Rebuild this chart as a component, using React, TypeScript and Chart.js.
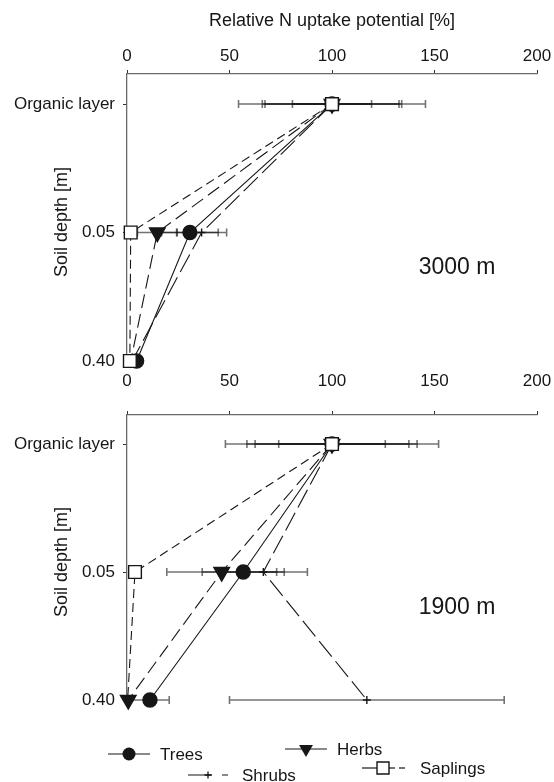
import React, { useEffect, useRef } from 'react';
import { Chart, registerables } from 'chart.js';

Chart.register(...registerables);

// ---------- data ----------
const depthLabels = ['Organic layer', '0.05', '0.40'];
const xTicks = [0, 50, 100, 150, 200];
const axisTitle = 'Relative N uptake potential [%]';
const yTitle = 'Soil depth [m]';
const panelNames = ['3000 m', '1900 m'];
const seriesNames = ['Trees', 'Herbs', 'Shrubs', 'Saplings'];

// 3000 m
const trees3000 = [100, 30.7, 4.7];
const trees3000Err = [34, 13.8, 0];
const herbs3000 = [100, 14.8, 1.8];
const herbs3000Err = [32.7, 9.7, 0];
const shrubs3000 = [100, 36.4, 2.5];
const shrubs3000Err = [45.6, 12.2, 0];
const saplings3000 = [100, 1.8, 1.4];
const saplings3000Err = [19.3, 2, 0];

// 1900 m
const trees1900 = [100, 56.7, 11.2];
const trees1900Err = [41.5, 20, 9.4];
const herbs1900 = [100, 46.2, 0.6];
const herbs1900Err = [37.5, 26.8, 0];
const shrubs1900 = [100, 66.5, 117];
const shrubs1900Err = [52, 21.5, 67];
const saplings1900 = [100, 3.9, 0.3];
const saplings1900Err = [26, 0, 0];

const FONT = "'Liberation Sans', Arial, Helvetica, sans-serif";
const INK = '#161616';

type SeriesStyle = {
  pointStyle: any;
  radius: number;
  rotation: number;
  fill: string;
  dash: number[];
  order: number;
};

const styles: Record<string, SeriesStyle> = {
  Trees: { pointStyle: 'circle', radius: 7, rotation: 0, fill: INK, dash: [], order: 3 },
  Herbs: { pointStyle: 'triangle', radius: 9, rotation: 180, fill: INK, dash: [14, 6], order: 2 },
  Shrubs: { pointStyle: 'cross', radius: 4, rotation: 0, fill: INK, dash: [20, 6], order: 1 },
  Saplings: { pointStyle: 'rect', radius: 9, rotation: 0, fill: '#ffffff', dash: [9, 5], order: 0 },
};

function makeDataset(name: string, values: number[], errs: number[], hidden: boolean[] = []) {
  const s = styles[name];
  return {
    label: name,
    data: values.map((v, i) => ({ x: v, y: i })),
    xErr: errs,
    showLine: true,
    borderColor: INK,
    borderWidth: 1.1,
    borderDash: s.dash,
    pointStyle: s.pointStyle,
    pointRadius: values.map((_, i) => (hidden[i] ? 0 : s.radius)),
    pointRotation: s.rotation,
    pointBackgroundColor: s.fill,
    pointBorderColor: INK,
    pointBorderWidth: 1.4,
    order: s.order,
    clip: false,
    tension: 0,
  };
}

const errorBarPlugin = {
  id: 'errbars',
  beforeDatasetsDraw(chart: any) {
    const ctx = chart.ctx;
    const xs = chart.scales.x;
    ctx.save();
    ctx.strokeStyle = 'rgba(0,0,0,0.55)';
    ctx.lineWidth = 1.6;
    ctx.setLineDash([]);
    chart.data.datasets.forEach((ds: any, di: number) => {
      const meta = chart.getDatasetMeta(di);
      const errs = ds.xErr || [];
      meta.data.forEach((pt: any, i: number) => {
        const e = errs[i];
        if (!e) return;
        const v = ds.data[i].x;
        const x1 = xs.getPixelForValue(v - e);
        const x2 = xs.getPixelForValue(v + e);
        const y = pt.y;
        ctx.beginPath();
        ctx.moveTo(x1, y);
        ctx.lineTo(x2, y);
        ctx.moveTo(x1, y - 4);
        ctx.lineTo(x1, y + 4);
        ctx.moveTo(x2, y - 4);
        ctx.lineTo(x2, y + 4);
        ctx.stroke();
      });
    });
    ctx.restore();
  },
};

function drawMarker(ctx: CanvasRenderingContext2D, kind: string, x: number, y: number) {
  ctx.save();
  ctx.setLineDash([]);
  ctx.strokeStyle = INK;
  ctx.fillStyle = INK;
  ctx.lineWidth = 1.4;
  ctx.beginPath();
  if (kind === 'Trees') {
    ctx.arc(x, y, 6.5, 0, Math.PI * 2);
    ctx.fill();
  } else if (kind === 'Herbs') {
    const r = 8;
    ctx.moveTo(x - r * 0.866, y - r * 0.5);
    ctx.lineTo(x + r * 0.866, y - r * 0.5);
    ctx.lineTo(x, y + r);
    ctx.closePath();
    ctx.fill();
  } else if (kind === 'Shrubs') {
    ctx.lineWidth = 1.3;
    ctx.moveTo(x - 3.5, y);
    ctx.lineTo(x + 3.5, y);
    ctx.moveTo(x, y - 3.5);
    ctx.lineTo(x, y + 3.5);
    ctx.stroke();
  } else {
    ctx.fillStyle = '#ffffff';
    ctx.rect(x - 6, y - 6, 12, 12);
    ctx.fill();
    ctx.stroke();
  }
  ctx.restore();
}

function legendLine(ctx: CanvasRenderingContext2D, x1: number, x2: number, y: number, dash: number[]) {
  ctx.save();
  ctx.strokeStyle = INK;
  ctx.lineWidth = 1.2;
  ctx.setLineDash(dash);
  ctx.beginPath();
  ctx.moveTo(x1, y);
  ctx.lineTo(x2, y);
  ctx.stroke();
  ctx.restore();
}

function makeTextPlugin(panelIdx: number, yTitleCenter: number, panelLabelY: number, withLegend: boolean) {
  return {
    id: 'texts' + panelIdx,
    afterDraw(chart: any) {
      const ctx = chart.ctx as CanvasRenderingContext2D;
      ctx.save();
      ctx.fillStyle = INK;
      // y title
      ctx.save();
      ctx.translate(62, yTitleCenter);
      ctx.rotate(-Math.PI / 2);
      ctx.font = `18px ${FONT}`;
      ctx.textAlign = 'center';
      ctx.textBaseline = 'middle';
      ctx.fillText(yTitle, 0, 0);
      ctx.restore();
      // panel label
      ctx.font = `23px ${FONT}`;
      ctx.textAlign = 'center';
      ctx.textBaseline = 'middle';
      ctx.fillText(panelNames[panelIdx], 457, panelLabelY);

      if (withLegend) {
        ctx.font = `17px ${FONT}`;
        ctx.textAlign = 'left';
        ctx.textBaseline = 'middle';
        // Trees
        legendLine(ctx, 108, 150, 754, []);
        drawMarker(ctx, 'Trees', 129, 754);
        ctx.fillText(seriesNames[0], 160, 755);
        // Herbs
        legendLine(ctx, 285, 327, 749, []);
        drawMarker(ctx, 'Herbs', 306, 749);
        ctx.fillText(seriesNames[1], 337, 750);
        // Shrubs
        legendLine(ctx, 188, 228, 775, [24, 10]);
        drawMarker(ctx, 'Shrubs', 208, 775);
        ctx.fillText(seriesNames[2], 242, 776);
        // Saplings
        legendLine(ctx, 362, 377, 768, []);
        legendLine(ctx, 389, 395, 768, []);
        legendLine(ctx, 399, 405, 768, []);
        drawMarker(ctx, 'Saplings', 383, 768);
        ctx.fillText(seriesNames[3], 420, 769);
      }
      ctx.restore();
    },
  };
}

type PanelCfg = {
  idx: number;
  datasets: any[];
  padTop: number;
  padBottom: number;
  xAxisHeight: number;
  tickPad: number;
  showTitle: boolean;
  yMin: number;
  yTitleCenter: number;
  panelLabelY: number;
  legend: boolean;
};

function buildChart(canvas: HTMLCanvasElement, cfg: PanelCfg) {
  return new Chart(canvas, {
    type: 'scatter',
    data: { datasets: cfg.datasets },
    options: {
      responsive: false,
      animation: false,
      events: [],
      layout: { padding: { top: cfg.padTop, bottom: cfg.padBottom, left: 0, right: 17 } },
      plugins: {
        legend: { display: false },
        tooltip: { enabled: false },
        title: { display: false },
      },
      scales: {
        x: {
          type: 'linear',
          position: 'top',
          min: 0,
          max: 200,
          afterBuildTicks: (s: any) => {
            s.ticks = xTicks.map((v) => ({ value: v }));
          },
          afterFit: (s: any) => {
            s.height = cfg.xAxisHeight;
            s.paddingLeft = 0;
            s.paddingRight = 0;
          },
          ticks: {
            font: { size: 17, family: FONT },
            color: INK,
            padding: cfg.tickPad,
            maxRotation: 0,
            autoSkip: false,
          },
          grid: { drawOnChartArea: false, drawTicks: true, tickLength: 4, color: '#333', lineWidth: 1 },
          border: { display: true, color: '#6a6a6a', width: 1.3 },
          title: {
            display: cfg.showTitle,
            text: axisTitle,
            font: { size: 18, family: FONT },
            color: INK,
            padding: { top: 10, bottom: 0 },
          },
        },
        y: {
          type: 'linear',
          position: 'left',
          reverse: true,
          min: cfg.yMin,
          max: 2,
          afterBuildTicks: (s: any) => {
            s.ticks = [0, 1, 2].map((v) => ({ value: v }));
          },
          afterFit: (s: any) => {
            s.width = 127;
            s.paddingTop = 0;
            s.paddingBottom = 0;
          },
          ticks: {
            font: { size: 17, family: FONT },
            color: INK,
            padding: 8,
            autoSkip: false,
            callback: (v: any) => depthLabels[v as number] ?? '',
          },
          grid: { drawOnChartArea: false, drawTicks: true, tickLength: 4, color: '#333', lineWidth: 1 },
          border: { display: true, color: '#6a6a6a', width: 1.3 },
        },
      },
    } as any,
    plugins: [errorBarPlugin, makeTextPlugin(cfg.idx, cfg.yTitleCenter, cfg.panelLabelY, cfg.legend)],
  });
}

export default function App() {
  const topRef = useRef<HTMLCanvasElement | null>(null);
  const botRef = useRef<HTMLCanvasElement | null>(null);

  useEffect(() => {
    if (!topRef.current || !botRef.current) return;
    const top = buildChart(topRef.current, {
      idx: 0,
      datasets: [
        makeDataset('Trees', trees3000, trees3000Err),
        makeDataset('Herbs', herbs3000, herbs3000Err, [false, false, true]),
        makeDataset('Shrubs', shrubs3000, shrubs3000Err),
        makeDataset('Saplings', saplings3000, saplings3000Err),
      ],
      padTop: 0,
      padBottom: 782 - 361,
      xAxisHeight: 74,
      tickPad: 3,
      showTitle: true,
      yMin: -0.234,
      yTitleCenter: 222,
      panelLabelY: 268,
      legend: false,
    });
    const bot = buildChart(botRef.current, {
      idx: 1,
      datasets: [
        makeDataset('Trees', trees1900, trees1900Err),
        makeDataset('Herbs', herbs1900, herbs1900Err),
        makeDataset('Shrubs', shrubs1900, shrubs1900Err),
        makeDataset('Saplings', saplings1900, saplings1900Err, [false, false, true]),
      ],
      padTop: 365,
      padBottom: 782 - 700,
      xAxisHeight: 50,
      tickPad: 19,
      showTitle: false,
      yMin: -0.227,
      yTitleCenter: 562,
      panelLabelY: 608,
      legend: true,
    });
    return () => {
      top.destroy();
      bot.destroy();
    };
  }, []);

  const canvasStyle: React.CSSProperties = { position: 'absolute', left: 0, top: 0, width: 554, height: 782 };
  return (
    <div style={{ position: 'fixed', left: 0, top: 0, width: 554, height: 782, background: '#ffffff' }}>
      <canvas ref={topRef} width={554} height={782} style={canvasStyle} />
      <canvas ref={botRef} width={554} height={782} style={canvasStyle} />
    </div>
  );
}
